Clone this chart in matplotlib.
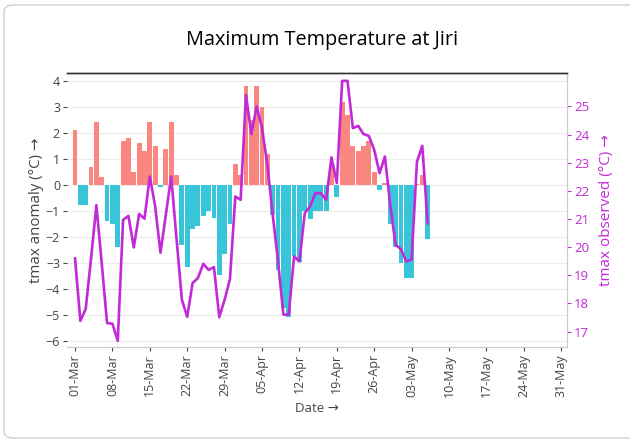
import numpy as np
import pandas as pd
import matplotlib
matplotlib.use('Agg')
import matplotlib.pyplot as plt
import matplotlib.dates as mdates
from matplotlib.patches import FancyBboxPatch

plt.rcParams['font.family'] = ['Open Sans', 'DejaVu Sans']

# daily values, 01-Mar .. 06-May
dates = pd.date_range('2023-03-01', '2023-05-06', freq='D')
tmax_anomaly = [2.12, -0.77, -0.77, 0.69, 2.42, 0.30, -1.39, -1.49, -2.39, 1.71,
                1.81, 0.50, 1.62, 1.31, 2.42, 1.50, -0.09, 1.41, 2.42, 0.39,
                -2.29, -3.17, -1.68, -1.58, -1.18, -0.99, -1.27, -3.47, -2.67, -1.49,
                0.80, 0.39, 3.82, 2.50, 3.82, 3.00, 1.20, -1.17, -3.28, -4.75,
                -5.08, -2.75, -2.96, -0.99, -1.29, -0.99, -0.99, -0.99, 0.77, -0.47,
                3.21, 2.70, 1.51, 1.31, 1.51, 1.71, 0.49, -0.19, 0.09, -1.49,
                -2.38, -2.99, -3.57, -3.57, 0.05, 0.39, -2.09]
tmax_observed = [19.60, 17.38, 17.80, 19.60, 21.49, 19.43, 17.30, 17.28, 16.67, 20.97,
                 21.11, 19.99, 21.18, 21.01, 22.51, 21.45, 19.80, 21.15, 22.51, 20.30,
                 18.13, 17.52, 18.72, 18.90, 19.41, 19.19, 19.29, 17.51, 18.13, 18.86,
                 21.80, 21.68, 25.41, 24.02, 25.00, 24.23, 22.93, 21.15, 19.49, 17.60,
                 17.60, 19.67, 19.49, 21.21, 21.45, 21.92, 21.92, 21.68, 23.19, 22.28,
                 25.91, 25.91, 24.23, 24.31, 24.02, 23.95, 23.46, 22.63, 23.22, 21.50,
                 20.08, 19.93, 19.49, 19.56, 23.04, 23.60, 20.85]
tick_dates = pd.date_range('2023-03-01', '2023-05-31', freq='7D')

POS = '#F9877F'
NEG = '#38C5DA'
LINE = '#C12AD6'
GRAY = '#444444'


def main():
    fig = plt.figure(figsize=(6.3, 4.41), dpi=100)
    ax = fig.add_axes([67 / 630, 1 - 347 / 441, 500 / 630, 274 / 441])
    ax2 = ax.twinx()

    anom = np.array(tmax_anomaly)
    colors = [POS if v >= 0 else NEG for v in anom]
    ax.bar(dates, anom, width=0.9, color=colors, zorder=2)

    ax2.plot(dates, tmax_observed, color=LINE, lw=1.9, zorder=3)

    x0 = pd.Timestamp('2023-03-01') - pd.Timedelta(hours=36)
    x1 = pd.Timestamp('2023-05-31') + pd.Timedelta(hours=26)
    ax.set_xlim(x0, x1)
    ax.set_ylim(-6.24, 4.32)
    ax2.set_ylim(16.45, 26.19)

    ax.set_yticks(range(-6, 5))
    ax.tick_params(axis='y', colors=GRAY, labelsize=9, length=3, width=0.8, pad=2)
    ax.grid(axis='y', color='#ececec', lw=0.9, zorder=0)
    ax.set_axisbelow(True)

    ax2.set_yticks(range(17, 26))
    ax2.tick_params(axis='y', colors=LINE, labelsize=9.5, length=3, width=0.8, pad=2)

    ax.set_xticks(tick_dates)
    ax.xaxis.set_major_formatter(mdates.DateFormatter('%d-%b'))
    ax.tick_params(axis='x', colors=GRAY, labelsize=9, length=3, width=0.8,
                   labelrotation=90, pad=2)

    for a in (ax, ax2):
        a.spines['left'].set_visible(False)
        a.spines['bottom'].set_color('#cccccc')
        a.spines['right'].set_color('#cccccc')
        a.spines['top'].set_color('#333333')
        a.spines['top'].set_linewidth(1.0)

    ax.set_ylabel('tmax anomaly (°C) →', color=GRAY, fontsize=10.8, labelpad=1)
    ax2.set_ylabel('tmax observed (°C) →', color=LINE, fontsize=11, labelpad=7)
    ax.set_xlabel('Date →', color=GRAY, fontsize=9.5, labelpad=4)

    fig.text(322 / 630, 1 - 40 / 441, 'Maximum Temperature at Jiri',
             ha='center', va='center', fontsize=14.3, fontweight='medium',
             color='black')

    border = FancyBboxPatch((4 / 630, 3 / 441), 700 / 630, 433 / 441,
                            boxstyle='round,pad=0,rounding_size=0.015',
                            transform=fig.transFigure, fill=False,
                            ec='#d0d0d0', lw=1.0, zorder=-1)
    fig.patches.append(border)

    fig.savefig('out.png', dpi=100)


if __name__ == '__main__':
    main()
